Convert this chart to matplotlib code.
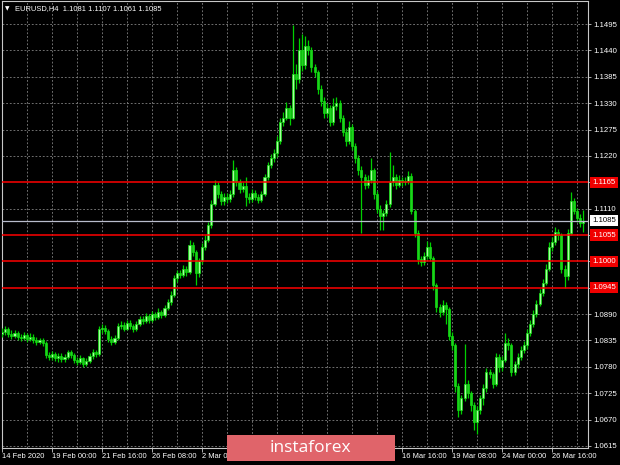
import matplotlib
matplotlib.use('Agg')
import matplotlib.pyplot as plt
from matplotlib.patches import Rectangle

# ---------------- data ----------------
first_open = 1.0848
closes = [
    1.0852, 1.0858, 1.0849, 1.0845, 1.0850, 1.0842, 1.0840, 1.0846, 1.0838, 1.0843,
    1.0836, 1.0832, 1.0835, 1.0830, 1.0805, 1.0800, 1.0806, 1.0798, 1.0803, 1.0796,
    1.0801, 1.0810, 1.0804, 1.0795, 1.0790, 1.0798, 1.0786, 1.0792, 1.0802, 1.0810,
    1.0806, 1.0858, 1.0862, 1.0855, 1.0838, 1.0832, 1.0840, 1.0865, 1.0868, 1.0860,
    1.0872, 1.0866, 1.0858, 1.0870, 1.0880, 1.0876, 1.0886, 1.0878, 1.0890, 1.0884,
    1.0895, 1.0888, 1.0903, 1.0915, 1.0930, 1.0965, 1.0975, 1.0972, 1.0985, 1.0978,
    1.1035, 1.1020, 1.0975, 1.1000, 1.1030, 1.1045, 1.1075, 1.1120, 1.1160, 1.1140,
    1.1125, 1.1135, 1.1130, 1.1140, 1.1190, 1.1165, 1.1150, 1.1158, 1.1135, 1.1130,
    1.1142, 1.1135, 1.1128, 1.1140, 1.1175, 1.1200, 1.1215, 1.1225, 1.1250, 1.1290,
    1.1300, 1.1320, 1.1300, 1.1390, 1.1380, 1.1440, 1.1410, 1.1450, 1.1440, 1.1405,
    1.1395, 1.1360, 1.1335, 1.1310, 1.1320, 1.1290, 1.1325, 1.1330, 1.1300, 1.1270,
    1.1250, 1.1280, 1.1240, 1.1215, 1.1190, 1.1175, 1.1160, 1.1170, 1.1190, 1.1140,
    1.1110, 1.1095, 1.1100, 1.1120, 1.1165, 1.1175, 1.1160, 1.1170, 1.1165, 1.1168,
    1.1178, 1.1105, 1.1060, 1.1005, 1.0998, 1.1012, 1.1030, 1.1008, 1.0950, 1.0905,
    1.0895, 1.0910, 1.0900, 1.0845, 1.0825, 1.0740, 1.0690, 1.0715, 1.0745, 1.0725,
    1.0700, 1.0665, 1.0690, 1.0715, 1.0735, 1.0770, 1.0765, 1.0745, 1.0800, 1.0780,
    1.0795, 1.0830, 1.0825, 1.0770, 1.0785, 1.0800, 1.0815, 1.0825, 1.0850, 1.0870,
    1.0890, 1.0912, 1.0935, 1.0955, 1.0985, 1.1030, 1.1040, 1.1062, 1.1055, 1.0985,
    1.0970, 1.1060, 1.1125, 1.1105, 1.1090, 1.1081, 1.1085,
]
highs = [
    1.0862, 1.0866, 1.0864, 1.0856, 1.0857, 1.0855, 1.0849, 1.0853, 1.0851, 1.0850,
    1.0848, 1.0842, 1.0841, 1.0840, 1.0834, 1.0812, 1.0813, 1.0810, 1.0809, 1.0808,
    1.0807, 1.0816, 1.0815, 1.0808, 1.0800, 1.0804, 1.0801, 1.0798, 1.0808, 1.0818,
    1.0816, 1.0866, 1.0870, 1.0868, 1.0859, 1.0845, 1.0846, 1.0872, 1.0876, 1.0873,
    1.0878, 1.0877, 1.0870, 1.0876, 1.0887, 1.0886, 1.0893, 1.0890, 1.0897, 1.0895,
    1.0902, 1.0899, 1.0910, 1.0922, 1.0938, 1.0972, 1.0983, 1.0982, 1.0993, 1.0990,
    1.1045, 1.1040, 1.1024, 1.1008, 1.1038, 1.1055, 1.1083, 1.1128, 1.1170, 1.1165,
    1.1146, 1.1143, 1.1142, 1.1148, 1.1211, 1.1196, 1.1172, 1.1166, 1.1175, 1.1142,
    1.1150, 1.1148, 1.1140, 1.1147, 1.1182, 1.1208, 1.1224, 1.1235, 1.1262, 1.1300,
    1.1312, 1.1332, 1.1326, 1.1493, 1.1412, 1.1465, 1.1475, 1.1470, 1.1462, 1.1448,
    1.1412, 1.1400, 1.1368, 1.1342, 1.1330, 1.1326, 1.1340, 1.1342, 1.1336, 1.1306,
    1.1278, 1.1292, 1.1286, 1.1246, 1.1222, 1.1198, 1.1182, 1.1180, 1.1215, 1.1195,
    1.1146, 1.1118, 1.1108, 1.1128, 1.1228, 1.1200, 1.1182, 1.1180, 1.1176, 1.1176,
    1.1188, 1.1184, 1.1110, 1.1066, 1.1012, 1.1020, 1.1042, 1.1040, 1.1012, 1.0955,
    1.0912, 1.0920, 1.0915, 1.0905, 1.0852, 1.0830, 1.0746, 1.0722, 1.0828, 1.0752,
    1.0730, 1.0706, 1.0698, 1.0722, 1.0745, 1.0778, 1.0775, 1.0770, 1.0808, 1.0806,
    1.0803, 1.0850, 1.0840, 1.0830, 1.0792, 1.0808, 1.0824, 1.0834, 1.0860, 1.0878,
    1.0898, 1.0920, 1.0943, 1.0964, 1.0995, 1.1040, 1.1050, 1.1072, 1.1068, 1.1060,
    1.0992, 1.1068, 1.1145, 1.1132, 1.1112, 1.1098, 1.1107,
]
lows = [
    1.0842, 1.0846, 1.0843, 1.0838, 1.0840, 1.0836, 1.0833, 1.0835, 1.0832, 1.0833,
    1.0830, 1.0826, 1.0827, 1.0824, 1.0798, 1.0794, 1.0795, 1.0792, 1.0791, 1.0790,
    1.0790, 1.0797, 1.0798, 1.0789, 1.0784, 1.0785, 1.0779, 1.0781, 1.0788, 1.0797,
    1.0800, 1.0802, 1.0850, 1.0848, 1.0832, 1.0826, 1.0828, 1.0836, 1.0858, 1.0854,
    1.0856, 1.0860, 1.0852, 1.0854, 1.0865, 1.0869, 1.0871, 1.0872, 1.0874, 1.0878,
    1.0880, 1.0881, 1.0884, 1.0898, 1.0910, 1.0926, 1.0958, 1.0965, 1.0967, 1.0970,
    1.0973, 1.1012, 1.0950, 1.0968, 1.0995, 1.1024, 1.1040, 1.1070, 1.1115, 1.1132,
    1.1117, 1.1118, 1.1122, 1.1124, 1.1135, 1.1158, 1.1143, 1.1144, 1.1115, 1.1122,
    1.1124, 1.1128, 1.1121, 1.1123, 1.1136, 1.1170, 1.1195, 1.1208, 1.1218, 1.1244,
    1.1282, 1.1294, 1.1284, 1.1296, 1.1360, 1.1372, 1.1398, 1.1402, 1.1430, 1.1395,
    1.1385, 1.1350, 1.1325, 1.1300, 1.1302, 1.1282, 1.1285, 1.1315, 1.1290, 1.1262,
    1.1240, 1.1244, 1.1232, 1.1205, 1.1180, 1.1060, 1.1150, 1.1152, 1.1164, 1.1130,
    1.1100, 1.1065, 1.1066, 1.1094, 1.1114, 1.1158, 1.1150, 1.1155, 1.1158, 1.1160,
    1.1162, 1.1098, 1.1050, 1.0995, 1.0990, 1.0992, 1.1005, 1.1000, 1.0940, 1.0895,
    1.0885, 1.0888, 1.0870, 1.0835, 1.0815, 1.0728, 1.0675, 1.0682, 1.0708, 1.0715,
    1.0688, 1.0648, 1.0640, 1.0682, 1.0700, 1.0728, 1.0756, 1.0735, 1.0740, 1.0770,
    1.0772, 1.0790, 1.0815, 1.0760, 1.0762, 1.0778, 1.0795, 1.0808, 1.0818, 1.0844,
    1.0864, 1.0884, 1.0906, 1.0928, 1.0950, 1.0980, 1.1022, 1.1034, 1.1045, 1.0975,
    1.0945, 1.0962, 1.1055, 1.1098, 1.1082, 1.1072, 1.1061,
]
opens = [first_open] + closes[:-1]

price_ticks = [1.1495, 1.1440, 1.1385, 1.1330, 1.1275, 1.1220, 1.1165, 1.1110,
               1.1055, 1.1000, 1.0945, 1.0890, 1.0835, 1.0780, 1.0725, 1.0670, 1.0615]
red_levels = [1.1165, 1.1055, 1.1000, 1.0945]
current_price = 1.1085
# labels at bars 80, 96, 112 are covered by the logo in the reference
time_label_bars = [0, 16, 32, 48, 64, 80, 96, 112, 128, 144, 160, 176]
time_labels = ["14 Feb 2020", "19 Feb 00:00", "21 Feb 16:00", "26 Feb 08:00",
               "2 Mar 00:00", "", "", "",
               "16 Mar 16:00", "19 Mar 08:00", "24 Mar 00:00", "26 Mar 16:00"]
header = "EURUSD,H4  1.1081 1.1107 1.1061 1.1085"

# ---------------- figure ----------------
W, H = 620, 465
fig = plt.figure(figsize=(W / 100, H / 100), dpi=100, facecolor='black')
ax = fig.add_axes([2 / W, 1 - 448 / H, 586 / W, 447 / H])
ax.set_facecolor('black')

FONT = ['Liberation Sans', 'DejaVu Sans']
grid_kw = dict(color='#808080', lw=0.6, dashes=(2.2, 2.2), zorder=1)

for p in price_ticks:
    if p not in red_levels:
        ax.axhline(p, **grid_kw)
for b in range(8, len(closes) + 1, 8):
    ax.axvline(b, **grid_kw)

# candles
wick_c = '#00d000'
for i, (o, h, l, c) in enumerate(zip(opens, highs, lows, closes)):
    ax.vlines(i, l, h, color=wick_c, lw=0.9, zorder=3)
    lo, hi = min(o, c), max(o, c)
    hgt = max(hi - lo, 0.00006)
    fc = '#a8ffa0' if c >= o else '#1ed21e'
    ax.add_patch(Rectangle((i - 0.33, lo), 0.66, hgt, facecolor=fc,
                           edgecolor='#10e010', lw=0.5, zorder=4))

# levels
for lv in red_levels:
    ax.axhline(lv, color='#ff0000', lw=1.1, zorder=5)
ax.axhline(current_price, color='#b8bccc', lw=0.9, zorder=5)

ax.set_xlim(0.0, 187.5)
ax.set_ylim(1.06108, 1.15430)

for s in ax.spines.values():
    s.set_color('#c8c8c8')
    s.set_linewidth(0.8)

ax.yaxis.tick_right()
ax.set_yticks(price_ticks)
ax.set_yticklabels([f"{p:.4f}" for p in price_ticks])
ax.tick_params(axis='y', colors='#c8c8c8', length=2.5, width=0.6, pad=1.5,
               labelsize=5.6, labelcolor='white')
ax.set_xticks(time_label_bars)
ax.set_xticklabels(time_labels, ha='left')
ax.tick_params(axis='x', colors='#c8c8c8', length=3, width=0.6, pad=0.8,
               labelsize=5.4, labelcolor='white')
for t in ax.get_xticklabels() + ax.get_yticklabels():
    t.set_family(FONT)

ytr = ax.get_yaxis_transform()
for lv in red_levels:
    ax.text(1.0075, lv, f"{lv:.4f}", transform=ytr, ha='left', va='center',
            fontsize=5.6, color='white', family=FONT, zorder=10, clip_on=False,
            bbox=dict(boxstyle='square,pad=0.28', fc='#f00000', ec='none'))
ax.text(1.0075, current_price, f"{current_price:.4f}", transform=ytr, ha='left',
        va='center', fontsize=5.6, color='black', family=FONT, zorder=10,
        clip_on=False,
        bbox=dict(boxstyle='square,pad=0.28', fc='white', ec='none'))

# header
fig.text(5 / W, 1 - 8.5 / H, "\u25BC", color='white', fontsize=4.2,
         ha='left', va='center', family=['DejaVu Sans'])
fig.text(15 / W, 1 - 8.5 / H, header, color='white', fontsize=5.4,
         ha='left', va='center', family=FONT)

# logo
fig.add_artist(Rectangle((227 / W, 1 - 461 / H), 168 / W, 26 / H,
                         transform=fig.transFigure, facecolor='#e0646a',
                         edgecolor='none', zorder=20))
fig.text(310 / W, 1 - 448 / H, "instaforex", color='white', fontsize=12.5,
         ha='center', va='center', family=['Open Sans', 'DejaVu Sans'],
         zorder=21)

fig.savefig('out.png', dpi=100, facecolor='black')
